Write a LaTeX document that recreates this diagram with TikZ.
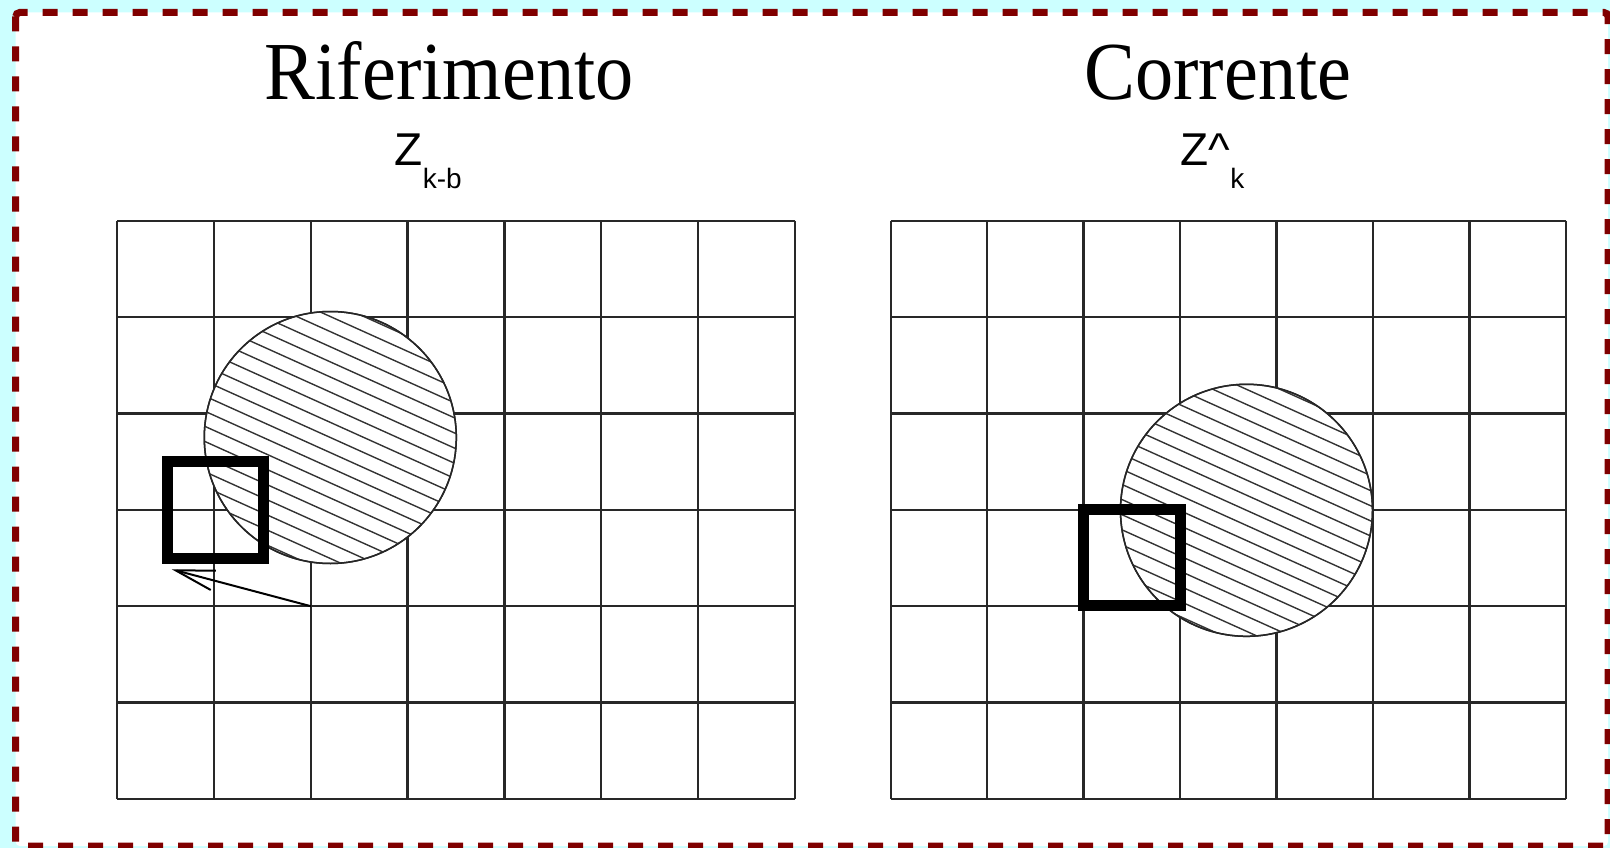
\documentclass[tikz,border=0pt]{standalone}
\usepackage{graphicx}
\usepackage{fontspec}
\setmainfont{Liberation Serif}
\newfontfamily\arialf{Liberation Sans}
\usetikzlibrary{arrows.meta}
\definecolor{bgcyan}{RGB}{204,255,255}
\definecolor{framered}{RGB}{128,0,0}
\definecolor{gridgray}{RGB}{40,40,40}
\begin{document}
\begin{tikzpicture}[x=1pt,y=-1pt,
  gridline/.style={line width=2.3pt, draw=gridgray},
  circline/.style={line width=1.5pt, draw=black!85, fill=white},
  hatchline/.style={line width=1.4pt, draw=black!80},
  thickbox/.style={line width=11pt, draw=black, miter limit=10},
  titletext/.style={font=\fontsize{76.3}{80}\selectfont, inner sep=0pt, anchor=base},
  zlabel/.style={font=\arialf\fontsize{46}{50}\selectfont, inner sep=0pt, anchor=base west},
  motion/.style={line width=2pt, draw=black, -{Straight Barb[length=39pt,width=20pt]}}
]
\useasboundingbox (0,0) rectangle (1610,848);
\fill[bgcyan] (0,0) rectangle (1610,848);
\draw[framered, fill=white, line width=7pt, dash pattern=on 15pt off 15pt, rounded corners=4pt]
  (15.7,12.5) rectangle (1608,846);

% titles
\node[titletext] (tref) at (449.2,100) {\scalebox{1}[1.08]{Riferimento}};
\node[titletext] (tcur) at (1218,99.3) {\scalebox{1}[1.08]{Corrente}};
\node[zlabel] (zref) at (394.5,165.7) {Z\raisebox{-23.3pt}{\fontsize{28}{30}\selectfont k-b}};
\node[zlabel] (zcur) at (1180.5,165.7) {Z\textasciicircum\raisebox{-23.3pt}{\fontsize{28}{30}\selectfont k}};

% grids
\foreach \ox/\wx in {117.3/96.77, 890.7/96.46}{
  \foreach \i in {0,...,7}{
    \draw[gridline] ({\ox+\i*\wx},220.7) -- ({\ox+\i*\wx},799);
  }
  \foreach \j in {0,...,6}{
    \draw[gridline] (\ox,{220.7+\j*96.38}) -- ({\ox+7*\wx},{220.7+\j*96.38});
  }
}

% hatched circles
\foreach \cx/\cy in {330.3/437.5, 1246.5/510.3}{
  \draw[circline] (\cx,\cy) circle (126);
  \begin{scope}
    \clip (\cx,\cy) circle (126);
    \foreach \i in {-10,...,10}{
      \draw[hatchline] ({\cx-\i*5.6-150*0.91},{\cy+\i*12.6-150*0.41})
                    -- ({\cx-\i*5.6+150*0.91},{\cy+\i*12.6+150*0.41});
    }
  \end{scope}
  \draw[line width=1.5pt, draw=black!85] (\cx,\cy) circle (126);
}

% thick blocks
\draw[thickbox] (167.2,461.3) rectangle (263.3,558);
\draw[thickbox] (1083.3,509.5) rectangle (1180.7,605.3);

% motion vector
\coordinate (mvstart) at (310.8,606.2);
\coordinate (mvend) at (171.7,569.3);
\draw[motion] (mvstart) -- (mvend);
\end{tikzpicture}
\end{document}
